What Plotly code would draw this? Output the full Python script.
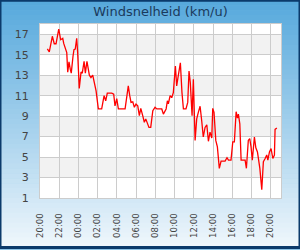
import plotly.graph_objects as go
from datetime import datetime, timedelta

title = "Windsnelheid (km/u)"

times = ["20:46", "20:58", "21:17", "21:29", "21:40", "21:57", "22:09", "22:22", "22:28", "22:38",
         "22:47", "22:53", "23:01", "23:09", "23:15", "23:26", "23:32", "23:40", "23:49", "23:55",
         "00:05", "00:16", "00:24", "00:35", "00:43", "00:53", "01:00", "01:08", "01:18", "01:29",
         "01:39", "01:50", "02:04", "02:25", "02:40", "02:50", "03:00", "03:28", "03:40", "03:48",
         "03:59", "04:09", "04:51", "05:05", "05:11", "05:20", "05:28", "05:39", "05:49", "05:59",
         "06:10", "06:20", "06:29", "06:41", "06:51", "07:00", "07:10", "07:20", "07:31", "07:44",
         "07:58", "08:09", "08:40", "08:50", "09:07", "09:15", "09:21", "09:32", "09:42", "09:52",
         "10:05", "10:13", "10:21", "10:36", "10:46", "10:55", "11:11", "11:22", "11:30", "11:38",
         "11:49", "11:57", "12:08", "12:18", "12:28", "12:39", "12:49", "12:59", "13:10", "13:21",
         "13:31", "13:41", "13:52", "13:58", "14:06", "14:17", "14:27", "14:39", "14:50", "15:15",
         "15:27", "15:36", "15:52", "16:03", "16:13", "16:24", "16:32", "16:38", "16:47", "16:55",
         "17:20", "17:28", "17:40", "17:49", "17:57", "18:05", "18:18", "18:27", "18:37", "18:43",
         "18:52", "19:04", "19:14", "19:25", "19:35", "19:42", "19:52", "20:02", "20:13", "20:23",
         "20:27", "20:38"]

speeds = [15.56, 15.27, 16.8, 16.07, 16.07, 17.5, 16.46, 16.6, 16.1, 15.5,
          15.2, 13.3, 14.3, 13.56, 13.2, 14.85, 15.5, 15.56, 16.6, 15.2,
          11.7, 13.3, 13.2, 14.36, 13.2, 14.36, 13.56, 13.0, 12.76, 13.0,
          12.27, 11.46, 9.7, 9.7, 11.0, 10.5, 11.24, 11.24, 11.15, 10.0,
          10.7, 9.7, 9.7, 11.37, 11.95, 11.0, 10.34, 10.4, 9.86, 10.18,
          10.0, 9.05, 9.76, 9.05, 8.4, 8.73, 8.25, 7.9, 7.9, 9.53,
          9.86, 9.7, 9.7, 9.2, 9.7, 10.5, 10.2, 11.0, 10.8, 11.3,
          13.9, 11.95, 12.76, 14.2, 11.3, 9.7, 9.7, 10.34, 13.4, 12.27,
          9.05, 12.6, 6.63, 8.73, 9.37, 9.96, 8.57, 6.96, 7.9, 8.15,
          6.54, 7.44, 6.86, 9.76, 9.37, 6.63, 6.0, 3.9, 4.6, 4.6,
          4.93, 4.7, 4.7, 6.48, 6.48, 9.43, 8.8, 9.2, 8.25, 4.7,
          4.7, 3.9, 6.63, 6.8, 6.0, 4.7, 6.96, 5.9, 5.5, 4.86,
          3.9, 1.8, 4.55, 4.86, 5.2, 4.7, 5.5, 5.83, 4.86, 5.2,
          7.7, 7.83]

base = datetime(2024, 1, 1)
xs = []
day = 0
prev = None
for t in times:
    h, m = map(int, t.split(":"))
    mins = h * 60 + m
    if prev is not None and mins < prev:
        day += 1
    prev = mins
    xs.append(base + timedelta(days=day, hours=h, minutes=m))

W, H = 300, 250
ML, MR, MT, MB = 40, 19, 24, 50
PW, PH = W - ML - MR, H - MT - MB

def px_x(x):
    return (x - ML) / PW

def px_y(y):
    return (H - MB - y) / PH

fig = go.Figure()
fig.add_trace(go.Scatter(x=xs, y=speeds, mode="lines",
                         line=dict(color="#ff0000", width=1.3),
                         hoverinfo="skip", showlegend=False))

shapes = []
top = (0x55, 0xa8, 0xdc)
bot = (0xf0, 0xf7, 0xfc)
N = 50
for i in range(N):
    f = (i + 0.5) / N
    c = tuple(round(top[k] + (bot[k] - top[k]) * f) for k in range(3))
    shapes.append(dict(type="rect", xref="paper", yref="paper",
                       x0=px_x(0), x1=px_x(W),
                       y0=px_y(i * H / N), y1=px_y((i + 1) * H / N + 0.5),
                       fillcolor="rgb(%d,%d,%d)" % c, line=dict(width=0), layer="below"))
shapes.append(dict(type="rect", xref="paper", yref="paper", x0=0, x1=1, y0=0, y1=1,
                   fillcolor="#ffffff", line=dict(width=0), layer="below"))
for y0 in [3, 7, 11, 15]:
    shapes.append(dict(type="rect", xref="paper", yref="y", x0=0, x1=1, y0=y0, y1=y0 + 2,
                       fillcolor="#f2f2f2", line=dict(width=0), layer="below"))
shapes.append(dict(type="rect", xref="paper", yref="paper",
                   x0=px_x(0), x1=px_x(W), y0=px_y(H), y1=px_y(0),
                   fillcolor="rgba(0,0,0,0)", line=dict(color="#0b3a6b", width=3), layer="above"))

fig.update_layout(
    width=W, height=H, autosize=False,
    margin=dict(l=ML, r=MR, t=MT, b=MB, pad=0),
    paper_bgcolor="#8cc4e8", plot_bgcolor="rgba(0,0,0,0)",
    shapes=shapes,
    title=dict(text=title, x=0.5, xref="paper", xanchor="center", y=1 - 11.5 / H, yanchor="middle",
               font=dict(family="DejaVu Sans", size=13, color="#1b3a5c")),
    xaxis=dict(type="date",
               range=[datetime(2024, 1, 1, 20, 0), datetime(2024, 1, 2, 21, 4)],
               tick0=datetime(2024, 1, 1, 20, 0), dtick=2 * 3600 * 1000,
               tickformat="%H:%M", tickangle=-90,
               showgrid=True, gridcolor="#cccccc", gridwidth=1,
               showline=True, mirror=True, linecolor="#cccccc", linewidth=1,
               ticks="", ticklabelstandoff=11,
               tickfont=dict(family="DejaVu Sans", size=8.5, color="#444444"),
               fixedrange=True, zeroline=False),
    yaxis=dict(range=[1, 18], tick0=1, dtick=2,
               showgrid=True, gridcolor="#cccccc", gridwidth=1,
               showline=True, mirror=True, linecolor="#cccccc", linewidth=1,
               ticks="", ticklabelstandoff=8,
               tickfont=dict(family="DejaVu Sans", size=11, color="#444444"),
               fixedrange=True, zeroline=False),
)

fig.write_html("out.html", config={"displayModeBar": False})
